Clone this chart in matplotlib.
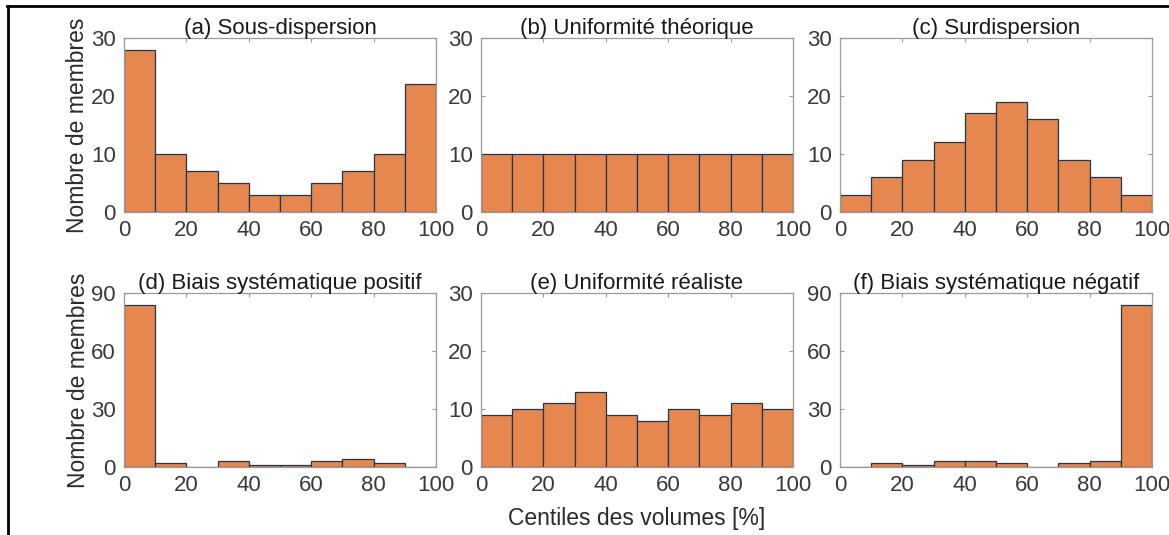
import numpy as np
import matplotlib
matplotlib.use("Agg")
import matplotlib.pyplot as plt
from matplotlib.lines import Line2D

plt.rcParams['font.family'] = ['Liberation Sans', 'DejaVu Sans']

# Rank histogram bins (percentile of observed volume within the ensemble)
bin_edges = [0, 10, 20, 30, 40, 50, 60, 70, 80, 90, 100]

titles = [
    "(a) Sous-dispersion",
    "(b) Uniformité théorique",
    "(c) Surdispersion",
    "(d) Biais systématique positif",
    "(e) Uniformité réaliste",
    "(f) Biais systématique négatif",
]

counts_a = [28, 10, 7, 5, 3, 3, 5, 7, 10, 22]
counts_b = [10, 10, 10, 10, 10, 10, 10, 10, 10, 10]
counts_c = [3, 6, 9, 12, 17, 19, 16, 9, 6, 3]
counts_d = [84, 2, 0, 3, 1, 1, 3, 4, 2, 0]
counts_e = [9, 10, 11, 13, 9, 8, 10, 9, 11, 10]
counts_f = [0, 2, 1, 3, 3, 2, 0, 2, 3, 84]

y_limits = [30, 30, 30, 90, 30, 90]
x_ticks = [0, 20, 40, 60, 80, 100]

all_counts = [counts_a, counts_b, counts_c, counts_d, counts_e, counts_f]

bar_color = "#E5874F"
edge_color = "#22384A"
axis_color = "#9A9A9A"
text_color = "#3A3A3A"

fig = plt.figure(figsize=(11.69, 5.35), dpi=100)
W, H = 1169, 535

lefts = [124, 481, 840]
width_px = 312
rows = [(38, 212), (293, 467)]

for i, counts in enumerate(all_counts):
    r, c = divmod(i, 3)
    top, bot = rows[r]
    ax = fig.add_axes([lefts[c] / W, 1 - bot / H, width_px / W, (bot - top) / H])
    centers = np.array(bin_edges[:-1]) + 5
    ax.bar(centers, counts, width=10, color=bar_color, edgecolor=edge_color,
           linewidth=0.9, zorder=2)
    ax.set_xlim(0, 100)
    ymax = y_limits[i]
    ax.set_ylim(0, ymax)
    ax.set_xticks(x_ticks)
    ax.set_yticks(np.linspace(0, ymax, 4))
    ax.tick_params(direction='in', length=3, width=0.8, colors=axis_color,
                   labelcolor=text_color, labelsize=16, top=True, right=True,
                   pad=6)
    for s in ax.spines.values():
        s.set_color(axis_color)
        s.set_linewidth(0.9)
    ax.set_title(titles[i], fontsize=16, color="#1A1A1A", pad=3)
    if c == 0:
        ax.set_ylabel("Nombre de membres", fontsize=16.5, color="#2A2A2A",
                      labelpad=1)

fig.text(637 / W, 1 - 519 / H, "Centiles des volumes [%]", ha='center',
         va='center', fontsize=16.5, color="#2A2A2A")

# Frame lines around the figure (top and left)
fig.add_artist(Line2D([7 / W, 1], [1 - 6 / H, 1 - 6 / H], color='black',
                      linewidth=2, transform=fig.transFigure))
fig.add_artist(Line2D([8 / W, 8 / W], [0, 1 - 6 / H], color='black',
                      linewidth=2, transform=fig.transFigure))

fig.savefig("out.png", dpi=100)
